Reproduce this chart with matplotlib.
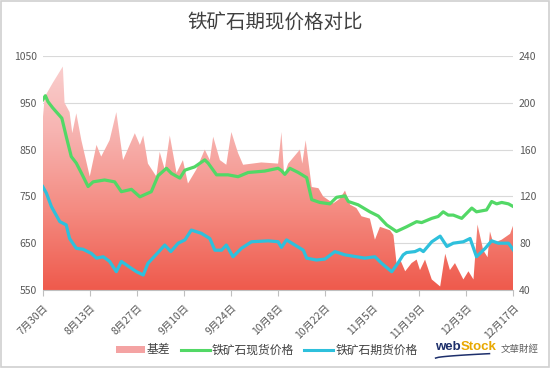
import numpy as np
import matplotlib
matplotlib.use("Agg")
import matplotlib.pyplot as plt
from matplotlib.colors import LinearSegmentedColormap
from matplotlib.patches import Rectangle, Patch
from matplotlib.lines import Line2D

plt.rcParams['font.family'] = ['Noto Sans CJK SC', 'DejaVu Sans']

# 日期（距 7月30日 的天数）与数值
spot_d = [0, 0.8, 1.6, 3, 5.7, 7, 8.5, 10, 11.5, 13.5, 15, 18.4, 21.4, 23.4, 26.4,
          28.9, 32.3, 34.3, 36.8, 38.3, 40.8, 42.3, 45.2, 48.2, 49.2, 51.7, 55.1,
          58.1, 61.1, 66, 70, 71, 72, 73.5, 76, 78.5, 80, 82.4, 85.4, 87.4, 89.9,
          90.9, 93.8, 97.3, 99.8, 102.3, 105.2, 108.2, 111.2, 112.7, 115.7, 117.6,
          119.1, 120.6, 122.1, 124.6, 127.6, 129, 132, 133.5, 135, 136.5, 138.5, 140]
spot = [956, 965, 952, 939, 917, 878, 835, 821, 800, 771, 781, 785, 781, 760, 765,
        749, 760, 794, 810, 799, 789, 806, 813, 828, 821, 796, 796, 792, 801, 804,
        810, 805, 797, 810, 801, 790, 743, 737, 734, 748, 751, 739, 732, 717, 708,
        689, 675, 685, 696, 694, 703, 707, 717, 710, 710, 703, 725, 717, 721, 739,
        734, 737, 734, 728]

fut_d = [0, 1.1, 2.6, 5.1, 7, 8, 10, 12, 14.5, 16, 18, 19.9, 21.9, 23.4, 25.4, 27.9,
         29.9, 31.3, 34.3, 36.3, 38.1, 40.3, 42.3, 44.2, 47.2, 49.7, 51.2, 53.2, 54.6,
         56.6, 59.1, 62.1, 67.1, 70, 71, 72.5, 75, 77.5, 78.5, 81.4, 83.9, 86.9, 89.9,
         93.3, 95.8, 98.8, 100.8, 103.8, 105.7, 107.2, 108.2, 110.7, 112.2, 113.2,
         115.7, 118.2, 120.2, 122.1, 125.1, 127.1, 129, 131.6, 133.5, 135.5, 138.5, 140]
futures = [771, 757, 728, 696, 689, 660, 639, 637, 628, 618, 621, 611, 589, 611, 601,
           589, 582, 607, 630, 646, 632, 650, 657, 678, 671, 660, 635, 635, 646, 621,
           639, 653, 655, 653, 641, 657, 646, 635, 618, 614, 616, 632, 625, 621, 618,
           621, 607, 589, 608, 625, 630, 632, 637, 632, 653, 665, 643, 650, 653, 660,
           621, 639, 655, 650, 650, 635]

basis_d = [0, 0.6, 3, 6, 6.5, 8, 8.8, 10, 11.5, 14, 16, 17.4, 19.9, 21.9, 23.9, 27.4,
           28.9, 29.9, 31.3, 33.8, 34.8, 35.5, 36.3, 37.8, 39.8, 41.7, 43.2, 45.7, 48.2,
           49.7, 50.7, 52.7, 54.6, 56.1, 58.1, 59.6, 65, 70, 71, 71.8, 73, 76.5, 77.2,
           78.2, 80, 82, 83.4, 86.4, 88.4, 89.9, 91.4, 93.3, 94.8, 97.3, 98.8, 100.3,
           103.3, 104.3, 105.3, 106.3, 107.8, 109.7, 111.2, 112.2, 113.7, 115.7, 118.2,
           119.7, 121.1, 122.6, 125.1, 126.6, 128.1, 129.3, 131, 132.3, 133, 134, 136.5,
           139, 140]
basis = [185, 205, 217, 231, 200, 192, 174, 191, 168, 137, 164, 154, 168, 192, 151, 174,
         164, 172, 148, 137, 158, 151, 143, 172, 140, 151, 131, 143, 160, 151, 171, 151,
         147, 175, 157, 147, 149, 148, 175, 138, 148, 160, 148, 168, 128, 127, 120, 114,
         118, 125, 113, 110, 103, 101, 83, 94, 91, 87, 61, 66, 56, 63, 66, 57, 66, 49,
         43, 71, 57, 63, 49, 56, 49, 96, 74, 68, 90, 80, 83, 88, 96]

tick_days = [0, 14, 28, 42, 56, 70, 84, 98, 112, 126, 140]
tick_labels = ['7月30日', '8月13日', '8月27日', '9月10日', '9月24日', '10月8日',
               '10月22日', '11月5日', '11月19日', '12月3日', '12月17日']

fig = plt.figure(figsize=(5.5, 3.68), dpi=100)
fig.patch.set_facecolor('white')
fig.patches.append(Rectangle((0.002, 0.003), 0.996, 0.994, transform=fig.transFigure,
                             fill=False, edgecolor='#d0d0d0', linewidth=1.2))

ax = fig.add_axes([0.0776, 0.212, 0.856, 0.636])
axr = ax.twinx()
ax.set_zorder(axr.get_zorder() + 1)
ax.patch.set_visible(False)

# 基差（右轴）渐变填充
axr.set_ylim(40, 240)
axr.set_yticks(np.arange(40, 241, 40))
axr.grid(axis='y', color='#d9d9d9', linewidth=0.8)
axr.set_axisbelow(True)
poly = axr.fill_between(basis_d, 40, basis, facecolor='none', edgecolor='none')
cmap = LinearSegmentedColormap.from_list('bs', ['#ef5a4c', '#f48a80', '#f7b3b0', '#fad2d2'])
grad = np.linspace(0, 1, 256).reshape(-1, 1)
im = axr.imshow(grad, extent=[0, 140, 40, 240], origin='lower', aspect='auto',
                cmap=cmap, zorder=1)
im.set_clip_path(poly.get_paths()[0], transform=axr.transData)

ax.plot(spot_d, spot, color='#52d866', linewidth=2.3, solid_joinstyle='round')
ax.plot(fut_d, futures, color='#2ec0dc', linewidth=2.3, solid_joinstyle='round')
ax.set_ylim(550, 1050)
ax.set_yticks(np.arange(550, 1051, 100))
ax.set_xlim(0, 140)
ax.set_xticks(tick_days)
ax.set_xticklabels(tick_labels, rotation=45, ha='right', rotation_mode='anchor')
axr.set_xlim(0, 140)

for a in (ax, axr):
    for s in a.spines.values():
        s.set_visible(False)
    a.tick_params(axis='y', length=0, labelsize=7.5, labelcolor='#595959', pad=4)
ax.spines['bottom'].set_visible(True)
ax.spines['bottom'].set_color('#bfbfbf')
ax.tick_params(axis='x', length=4, color='#bfbfbf', labelsize=7.5,
               labelcolor='#595959', pad=5)

fig.text(0.5, 0.94, '铁矿石期现价格对比', ha='center', va='center',
         fontsize=14, color='#404040')

handles = [Patch(facecolor='#f4a3a3', edgecolor='none'),
           Line2D([0], [0], color='#52d866', linewidth=2.2),
           Line2D([0], [0], color='#2ec0dc', linewidth=2.2)]
fig.legend(handles, ['基差', '铁矿石现货价格', '铁矿石期货价格'], loc='center',
           bbox_to_anchor=(0.485, 0.049), ncol=3, frameon=False, fontsize=8.5,
           handlelength=2.45, handleheight=0.55, handletextpad=0.2,
           columnspacing=0.85, labelcolor='#404040')

# 水印标志
fig.text(0.791, 0.057, 'web', color='#1d2f6b', fontsize=9.5, fontweight='bold',
         ha='left', va='center', family='Liberation Sans')
fig.text(0.837, 0.057, 'Stock', color='#e8a800', fontsize=9.5, fontweight='bold',
         ha='left', va='center', family='Liberation Sans')
fig.text(0.944, 0.052, '文華財經', color='#606060', fontsize=6.8, ha='center',
         va='center', family=['Noto Sans CJK TC', 'DejaVu Sans'])
sx = np.linspace(0.792, 0.89, 20)
sy = 0.027 + 0.012 * ((sx - 0.792) / 0.098) ** 0.6
fig.add_artist(Line2D(sx, sy, transform=fig.transFigure, color='#1d2f6b', linewidth=1.1))

fig.savefig('out.png', dpi=100)
